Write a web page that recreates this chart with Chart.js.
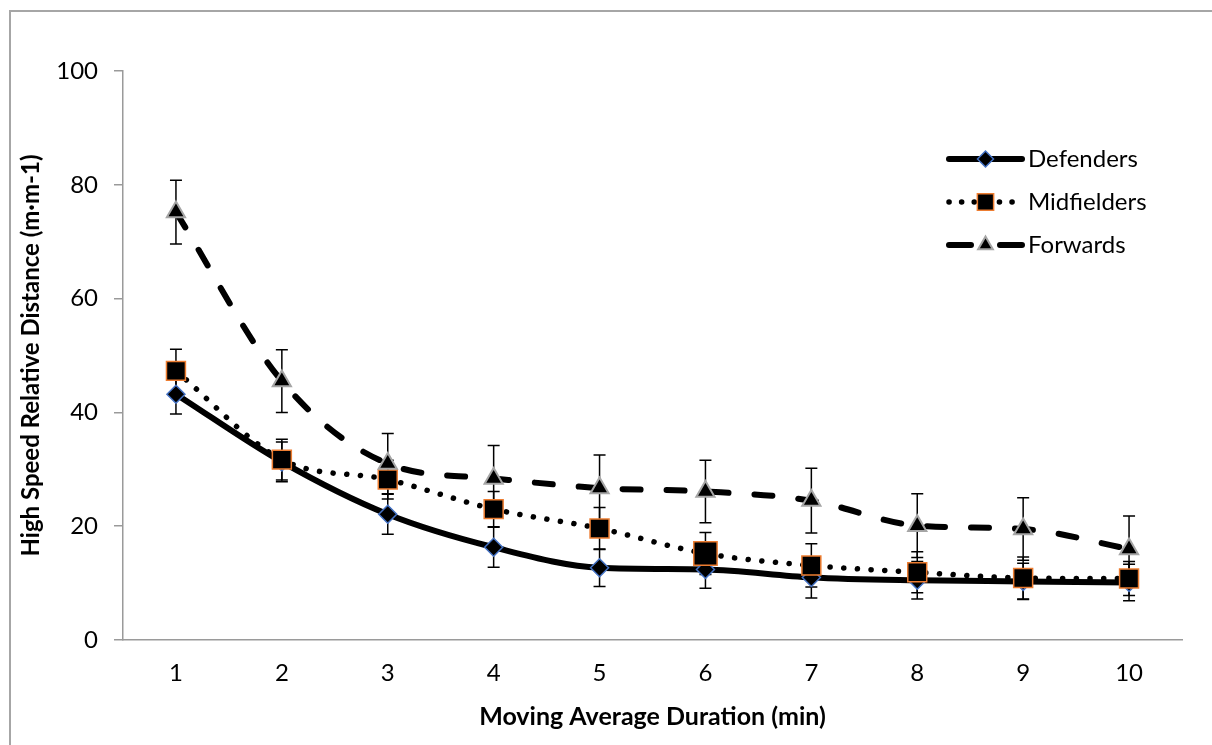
<!DOCTYPE html>
<html>
<head>
<meta charset="utf-8">
<title>High Speed Relative Distance</title>
<script src="https://cdn.jsdelivr.net/npm/chart.js@4.4.0/dist/chart.umd.min.js"></script>
<style>
  html, body { margin: 0; padding: 0; background: #fff; }
  #wrap { width: 1212px; height: 745px; position: relative; }
</style>
</head>
<body>
<div id="wrap"><canvas id="chart"></canvas></div>
<script>
// Data
const durations = ['1', '2', '3', '4', '5', '6', '7', '8', '9', '10'];
const defenders = [43.2, 31.3, 22.1, 16.3, 12.7, 12.4, 11.0, 10.5, 10.3, 10.1];
const defendersErr = [3.5, 3.5, 3.5, 3.5, 3.3, 3.3, 3.6, 3.3, 3.2, 3.2];
const midfielders = [47.3, 31.7, 28.2, 23.0, 19.6, 15.2, 13.1, 11.9, 10.9, 10.8];
const midfieldersErr = [3.8, 3.6, 3.4, 3.1, 3.7, 3.7, 3.8, 3.6, 3.7, 3.0];
const forwards = [75.2, 45.5, 31.0, 28.4, 26.7, 26.1, 24.5, 20.1, 19.5, 16.0];
const forwardsErr = [5.6, 5.5, 5.3, 5.8, 5.8, 5.5, 5.7, 5.6, 5.5, 5.8];
const yTicks = [0, 20, 40, 60, 80, 100];

const FONT = 'Lato, "Open Sans", sans-serif';
const AXIS_GREY = '#9a9a9a';

// Outer frame of the picture
const frame = {
    id: 'frame',
    beforeDraw(chart) {
        const ctx = chart.ctx;
        ctx.save();
        ctx.strokeStyle = '#a6a6a6';
        ctx.lineWidth = 2;
        ctx.strokeRect(10, 11, chart.width + 50, chart.height + 50);
        ctx.restore();
    }
};

// Vertical error bars with caps, drawn behind the markers
const errorBars = {
    id: 'errorBars',
    beforeDatasetsDraw(chart) {
        const { ctx, scales: { x, y } } = chart;
        ctx.save();
        ctx.strokeStyle = '#000';
        ctx.lineWidth = 1.5;
        chart.data.datasets.forEach(ds => {
            ds.data.forEach((v, i) => {
                const px = x.getPixelForValue(i);
                const top = y.getPixelForValue(v + ds.errors[i]);
                const bot = y.getPixelForValue(v - ds.errors[i]);
                ctx.beginPath();
                ctx.moveTo(px, top);
                ctx.lineTo(px, bot);
                ctx.moveTo(px - 6, top);
                ctx.lineTo(px + 6, top);
                ctx.moveTo(px - 6, bot);
                ctx.lineTo(px + 6, bot);
                ctx.stroke();
            });
        });
        ctx.restore();
    }
};

// Legend drawn inside the plot, line sample + marker like the original
const lineLegend = {
    id: 'lineLegend',
    afterDraw(chart) {
        const { ctx, chartArea } = chart;
        const x0 = chartArea.right - 233;
        const x1 = chartArea.right - 160;
        const rowY = [chartArea.top + 88, chartArea.top + 131, chartArea.top + 174];
        ctx.save();
        chart.data.datasets.forEach((ds, i) => {
            const y = rowY[i];
            ctx.strokeStyle = ds.borderColor;
            ctx.lineWidth = ds.borderWidth;
            ctx.lineCap = 'round';
            ctx.setLineDash(ds.legendDash || []);
            ctx.lineDashOffset = ds.legendDashOffset || 0;
            ctx.beginPath();
            ctx.moveTo(x0, y);
            ctx.lineTo(x1, y);
            ctx.stroke();
            ctx.setLineDash([]);
            ctx.fillStyle = '#000';
            ctx.strokeStyle = ds.pointBorderColor;
            ctx.lineWidth = ds.pointBorderWidth;
            Chart.helpers.drawPoint(ctx, {
                pointStyle: ds.pointStyle,
                radius: ds.legendRadius,
                borderWidth: ds.pointBorderWidth,
                rotation: 0
            }, (x0 + x1) / 2, y);
            ctx.fillStyle = '#000';
            ctx.font = '24px ' + FONT;
            ctx.textBaseline = 'middle';
            ctx.textAlign = 'left';
            ctx.fillText(ds.label, x1 + 6, y);
        });
        ctx.restore();
    }
};

new Chart(document.getElementById('chart'), {
    type: 'line',
    data: {
        labels: durations,
        datasets: [
            {
                label: 'Defenders',
                data: defenders,
                errors: defendersErr,
                order: 3,
                borderColor: '#000',
                borderWidth: 6,
                cubicInterpolationMode: 'monotone',
                borderJoinStyle: 'round',
                pointStyle: 'rectRot',
                pointRadius: 9,
                pointBackgroundColor: '#000',
                pointBorderColor: '#4472C4',
                pointBorderWidth: 1.5,
                legendRadius: 8
            },
            {
                label: 'Midfielders',
                data: midfielders,
                errors: midfieldersErr,
                order: 2,
                borderColor: '#000',
                borderWidth: 5.5,
                borderDash: [0.1, 13.6],
                borderCapStyle: 'round',
                cubicInterpolationMode: 'monotone',
                pointStyle: 'rect',
                pointRadius: [13.4, 13.4, 13.4, 13.4, 13.4, 16.5, 13.4, 13.4, 13.4, 13.4],
                pointBackgroundColor: '#000',
                pointBorderColor: '#ED7D31',
                pointBorderWidth: 1.5,
                legendDash: [0.1, 12.5],
                legendDashOffset: 0,
                legendRadius: 11.5
            },
            {
                label: 'Forwards',
                data: forwards,
                errors: forwardsErr,
                order: 1,
                borderColor: '#000',
                borderWidth: 6,
                borderDash: [18, 26],
                borderCapStyle: 'round',
                cubicInterpolationMode: 'monotone',
                pointStyle: 'triangle',
                pointRadius: 10.5,
                pointBackgroundColor: '#000',
                pointBorderColor: '#A5A5A5',
                pointBorderWidth: 2,
                legendDash: [22, 29],
                legendDashOffset: 0,
                legendRadius: 8.5
            }
        ]
    },
    options: {
        responsive: true,
        maintainAspectRatio: false,
        animation: false,
        layout: { padding: { top: 71, right: 30, bottom: 0, left: 0 } },
        plugins: {
            legend: { display: false },
            tooltip: { enabled: false }
        },
        scales: {
            x: {
                type: 'category',
                offset: true,
                grid: { display: true, drawOnChartArea: false, drawTicks: false },
                border: { color: AXIS_GREY, width: 1.5 },
                ticks: { color: '#000', padding: 19, font: { family: FONT, size: 24 } },
                title: {
                    display: true,
                    text: 'Moving Average Duration (min)',
                    color: '#000',
                    font: { family: FONT, size: 25, weight: 'bold' },
                    padding: { top: 0, bottom: 13 }
                },
                afterFit(s) { s.height = 105; }
            },
            y: {
                min: 0,
                max: 100,
                afterBuildTicks(s) { s.ticks = yTicks.map(v => ({ value: v })); },
                grid: { display: true, drawOnChartArea: false, drawTicks: true, tickLength: 9, color: AXIS_GREY, lineWidth: 1.5 },
                border: { color: AXIS_GREY, width: 1.5 },
                ticks: { color: '#000', padding: 16, font: { family: FONT, size: 24 } },
                title: {
                    display: true,
                    text: 'High Speed Relative Distance (m·m-1)',
                    color: '#000',
                    font: { family: FONT, size: 24, weight: 'bold' },
                    padding: { top: 17, bottom: 0 }
                },
                afterFit(s) { s.width = 123; }
            }
        }
    },
    plugins: [frame, errorBars, lineLegend]
});
</script>
</body>
</html>
